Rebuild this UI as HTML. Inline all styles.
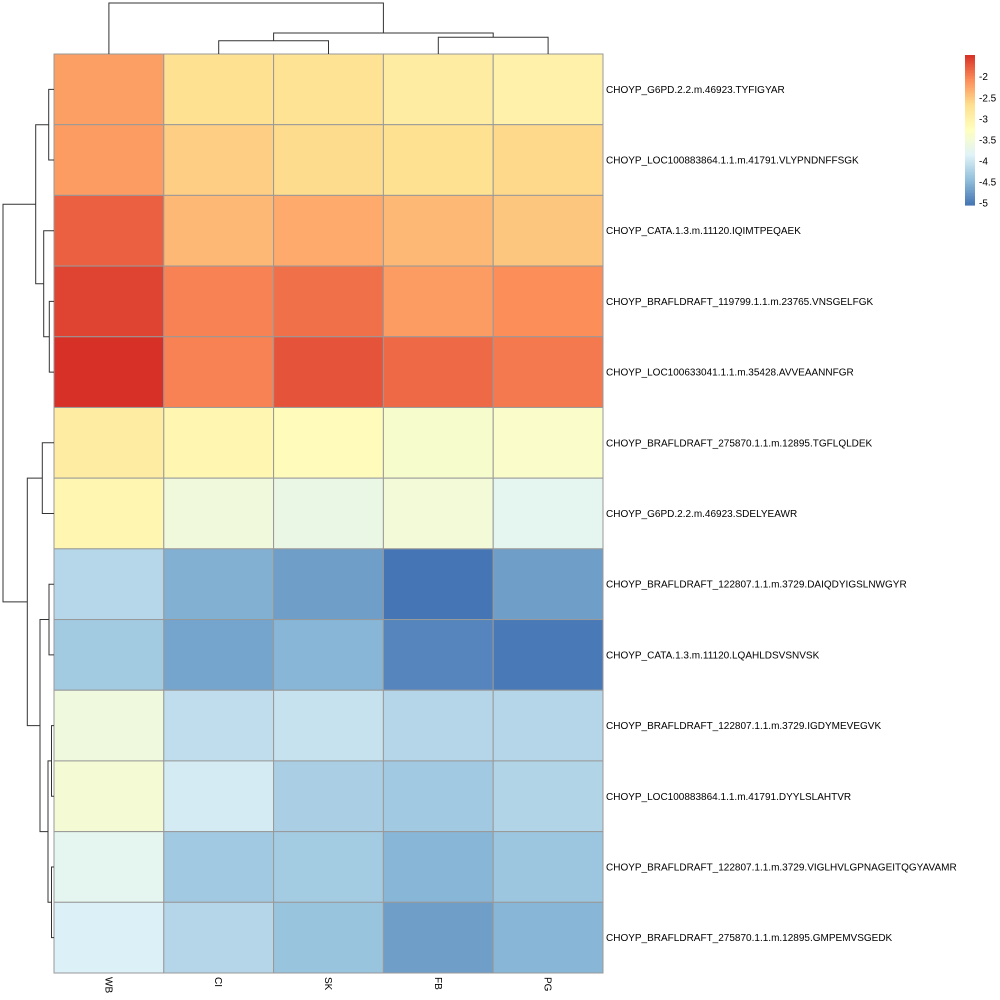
<!DOCTYPE html>
<html><head><meta charset="utf-8"><style>
html,body{margin:0;padding:0;background:#fff;}
svg{display:block;font-family:"Liberation Sans",Arial,sans-serif;}
</style></head><body>
<svg id="chart" width="1000" height="1000" viewBox="0 0 1000 1000" xmlns="http://www.w3.org/2000/svg"></svg>
<script>
const colLabels = ["WB","CI","SK","FB","PG"];
const rowLabels = [
"CHOYP_G6PD.2.2.m.46923.TYFIGYAR",
"CHOYP_LOC100883864.1.1.m.41791.VLYPNDNFFSGK",
"CHOYP_CATA.1.3.m.11120.IQIMTPEQAEK",
"CHOYP_BRAFLDRAFT_119799.1.1.m.23765.VNSGELFGK",
"CHOYP_LOC100633041.1.1.m.35428.AVVEAANNFGR",
"CHOYP_BRAFLDRAFT_275870.1.1.m.12895.TGFLQLDEK",
"CHOYP_G6PD.2.2.m.46923.SDELYEAWR",
"CHOYP_BRAFLDRAFT_122807.1.1.m.3729.DAIQDYIGSLNWGYR",
"CHOYP_CATA.1.3.m.11120.LQAHLDSVSNVSK",
"CHOYP_BRAFLDRAFT_122807.1.1.m.3729.IGDYMEVEGVK",
"CHOYP_LOC100883864.1.1.m.41791.DYYLSLAHTVR",
"CHOYP_BRAFLDRAFT_122807.1.1.m.3729.VIGLHVLGPNAGEITQGYAVAMR",
"CHOYP_BRAFLDRAFT_275870.1.1.m.12895.GMPEMVSGEDK"];
const values = [
[-2.18,-2.68,-2.70,-2.88,-2.98],
[-2.15,-2.52,-2.62,-2.66,-2.60],
[-1.76,-2.36,-2.26,-2.36,-2.46],
[-1.58,-1.98,-1.86,-2.16,-2.06],
[-1.45,-1.98,-1.68,-1.82,-1.92],
[-2.88,-3.08,-3.20,-3.40,-3.35],
[-3.08,-3.55,-3.65,-3.50,-3.75],
[-4.17,-4.57,-4.72,-5.05,-4.72],
[-4.32,-4.67,-4.52,-4.92,-5.02],
[-3.57,-4.10,-4.05,-4.18,-4.18],
[-3.47,-3.94,-4.26,-4.33,-4.21],
[-3.75,-4.33,-4.31,-4.52,-4.37],
[-3.88,-4.18,-4.39,-4.72,-4.52]];
const legendTicks = [-2,-2.5,-3,-3.5,-4,-4.5,-5];
const vmin = -5.05, vmax = -1.45;

const svg = document.getElementById('chart');
const NS = "http://www.w3.org/2000/svg";
function mk(tag, attrs, parent){const e=document.createElementNS(NS,tag);for(const k in attrs)e.setAttribute(k,attrs[k]);(parent||svg).appendChild(e);return e;}
const pal = [[69,117,180],[145,191,219],[224,243,248],[255,255,191],[254,224,144],[252,141,89],[215,48,39]];
function color(v){let t=(v-vmin)/(vmax-vmin);t=Math.max(0,Math.min(1,t))*6;const i=Math.min(5,Math.floor(t));const f=t-i;const a=pal[i],b=pal[i+1];return `rgb(${a.map((c,j)=>Math.round(c+(b[j]-c)*f)).join(',')})`;}
const X0=54,X1=603,Y0=54,Y1=973;
const cw=(X1-X0)/colLabels.length, rh=(Y1-Y0)/rowLabels.length;
const cx=j=>X0+cw*(j+0.5), cy=i=>Y0+rh*(i+0.5);

values.forEach((row,i)=>row.forEach((v,j)=>{
  const r=mk('rect',{x:X0+j*cw,y:Y0+i*rh,width:cw,height:rh,fill:color(v),stroke:'#999',"stroke-width":1});
  
  
}));
rowLabels.forEach((l,i)=>{
  const t=mk('text',{x:606,y:cy(i)+3.5,"font-size":10,fill:'#000'});t.textContent=l;
  
  
});
colLabels.forEach((l,j)=>{
  const t=mk('text',{transform:`translate(${cx(j)-3.5},977) rotate(90)`,"font-size":10,fill:'#000'});t.textContent=l;
  
  
});
const dg=mk('g',{stroke:'#333',"stroke-width":1,fill:'none'});


function rowJoin(ya,xa,yb,xb,h){mk('path',{d:`M${xa},${ya}H${h}V${yb}H${xb}`},dg);}
const L=54;
function rj(a,b,h){rowJoin(a[0],a[1],b[0],b[1],h);return [(a[0]+b[0])/2,h];}
const R=i=>[cy(i),L];
const n01=rj(R(0),R(1),48.7);
const n34=rj(R(3),R(4),49.3);
const n234=rj(R(2),n34,43.7);
const n04=rj(n01,n234,35.7);
const n56=rj(R(5),R(6),42.3);
const n78=rj(R(7),R(8),49);
const n910=rj(R(9),R(10),51.5);
const n1112=rj(R(11),R(12),51.5);
const n912=rj(n910,n1112,48);
const n712=rj(n78,n912,40);
const n512=rj(n56,n712,27.3);
rj(n04,n512,3);
const cg=mk('g',{stroke:'#333',"stroke-width":1,fill:'none'});


function cj(a,b,h){mk('path',{d:`M${a[0]},${a[1]}V${h}H${b[0]}V${b[1]}`},cg);return [(a[0]+b[0])/2,h];}
const C=j=>[cx(j),54];
const c12=cj(C(1),C(2),40.7);
const c34=cj(C(3),C(4),37.3);
const c14=cj(c12,c34,33);
cj(C(0),c14,3);
const lg=mk('g',{});


const LY0=55,LY1=205,N=100;
for(let k=0;k<N;k++){const v=vmax-(vmax-vmin)*(k+0.5)/N;mk('rect',{x:965,y:LY0+(LY1-LY0)*k/N,width:10,height:(LY1-LY0)/N+0.6,fill:color(v)},lg);}
const ly=v=>76.7+(-2-v)*42.1;
legendTicks.forEach(v=>{const t=mk('text',{x:979,y:ly(v)+3.5,"font-size":10,fill:'#000'},lg);t.textContent=String(v);
  
  });
</script>
</body></html>
